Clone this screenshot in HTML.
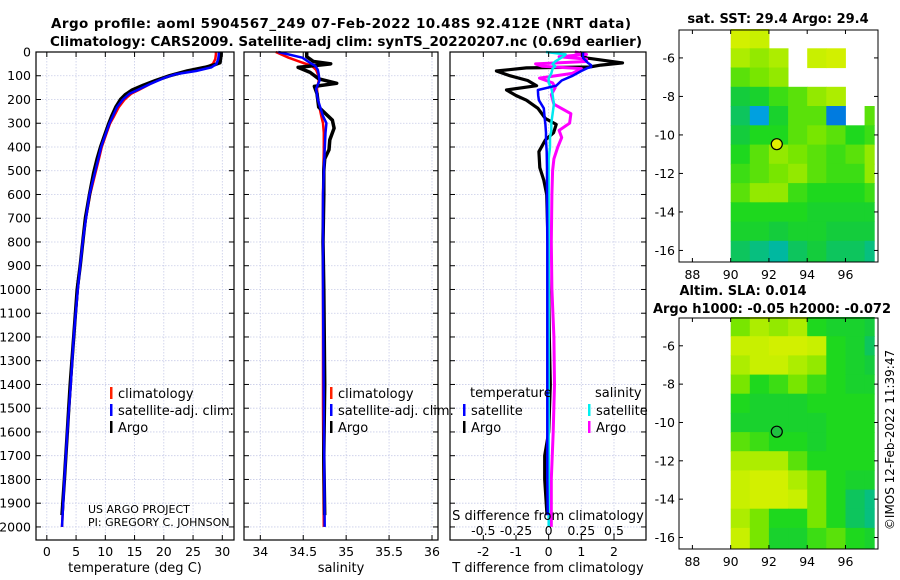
<!DOCTYPE html>
<html><head><meta charset="utf-8">
<style>
html,body{margin:0;padding:0;background:#fff;}
svg{display:block;font-family:"DejaVu Sans","Liberation Sans",sans-serif;}
</style></head>
<body>
<svg id="fig" width="900" height="580" viewBox="0 0 900 580" xmlns="http://www.w3.org/2000/svg">
<text x="341" y="28" text-anchor="middle" font-size="13.5" font-weight="bold" textLength="580">Argo profile: aoml 5904567_249 07-Feb-2022 10.48S 92.412E (NRT data)</text>
<text x="346" y="46" text-anchor="middle" font-size="13.5" font-weight="bold" textLength="592">Climatology: CARS2009. Satellite-adj clim: synTS_20220207.nc (0.69d earlier)</text>
<g id="plots"></g>
<text x="778" y="23" text-anchor="middle" font-size="13" font-weight="bold">sat. SST: 29.4 Argo: 29.4</text>
<text x="743" y="295" text-anchor="middle" font-size="13" font-weight="bold">Altim. SLA: 0.014</text>
<text x="772" y="313" text-anchor="middle" font-size="13" font-weight="bold">Argo h1000: -0.05 h2000: -0.072</text>
<text transform="translate(894,440) rotate(-90)" text-anchor="middle" font-size="12">©IMOS 12-Feb-2022 11:39:47</text>
</svg>
<script>
// ---------- profile data ----------
const depthT = [0,10,30,50,65,80,93,110,135,160,176,200,232,270,301,350,399,450,510,600,700,787,900,1000,1200,1400,1600,1800,2000];
const tempSat = [29.4,29.4,29.3,29.0,28.1,25.5,22.1,20,17.6,15.5,14.1,13,12,11.3,10.7,10,9.3,8.8,8.2,7.3,6.7,6.2,5.7,5.3,4.6,4.1,3.5,3.0,2.6];
const tempClim = [28.9,28.9,28.8,28.4,27.3,25.0,21.8,19.8,17.6,15.7,14.4,13.3,12.3,11.5,10.8,10.1,9.4,8.9,8.3,7.4,6.7,6.2,5.7,5.3,4.6,4.1,3.5,3.0,2.6];
const depthA = [0,10,30,45,55,65,80,100,120,140,160,180,200,232,270,301,350,399,450,510,600,700,787,900,1000,1200,1400,1600,1800,1950];
const tempArgo = [29.8,29.8,29.7,29.6,28.5,27.0,24.0,21.0,18.6,16.5,14.6,13.4,12.6,11.8,11.1,10.6,9.9,9.2,8.6,8.0,7.3,6.6,6.2,5.7,5.2,4.6,4.0,3.5,3.0,2.6];
const depthS = [0,24,46,58,75,93,121,155,200,270,300,340,410,600,1000,1500,2000];
const salSat = [34.21,34.49,34.58,34.64,34.67,34.68,34.69,34.65,34.67,34.73,34.77,34.76,34.75,34.73,34.73,34.74,34.75];
const salClim = [34.18,34.33,34.50,34.60,34.65,34.67,34.68,34.66,34.67,34.71,34.73,34.74,34.74,34.73,34.73,34.73,34.74];
const depthSA = [0,20,40,50,65,86,113,132,145,175,232,287,321,370,412,450,500,600,800,1000,1400,1700,1950];
const salArgo = [34.54,34.54,34.62,34.82,34.44,34.58,34.68,34.89,34.63,34.66,34.68,34.84,34.86,34.81,34.80,34.75,34.74,34.74,34.73,34.74,34.75,34.74,34.75];
const depthD = [0,25,46,55,63,67,80,100,120,142,160,183,203,237,280,305,340,370,420,487,540,600,800,1000,1200,1400,1600,1700,1800,1950];
const dTArgo = [0.95,1.15,2.26,1.6,1.25,-0.68,-1.6,-1.19,-0.64,-0.37,-1.29,-1.0,-0.68,-0.33,-0.1,0.23,0.15,-0.1,-0.3,-0.27,-0.15,-0.06,-0.02,0,0.02,0.05,0.0,-0.12,-0.12,-0.05];
const dTSat = [1.05,1.05,1.2,1.3,1.3,1.2,1.0,0.74,0.4,0.23,-0.33,-0.32,-0.3,-0.15,-0.12,-0.1,-0.08,-0.08,-0.06,-0.05,-0.05,-0.05,-0.04,-0.04,-0.04,-0.04,-0.04,-0.04,-0.04,-0.03];
const depthDS = [0,10,20,30,40,50,60,70,90,110,130,150,180,220,260,300,330,360,400,450,500,600,800,1000,1200,1400,1600,1800,2000];
const dSSat = [-0.02,0.13,0.11,0.08,0.05,0.03,0.05,0.03,0.02,0.0,0.0,0.02,0.03,0.04,0.03,0.02,0.02,0.01,0.01,0.0,0.0,0.0,0.0,0.0,0.0,0.0,0.0,0.0,0.0];
const dSArgo = [0.2,0.29,0.08,0.29,0.29,-0.1,-0.05,0.25,0.18,-0.07,0.03,0.05,0.02,0.04,0.17,0.16,0.08,0.1,0.07,0.04,0.03,0.025,0.02,0.025,0.04,0.045,0.035,0.02,0.02];
const depthTicks = [0,100,200,300,400,500,600,700,800,900,1000,1100,1200,1300,1400,1500,1600,1700,1800,1900,2000];
const tempTicks = [0,5,10,15,20,25,30];
const salTicks = [34,34.5,35,35.5,36];
const salTickLabels = ['34','34.5','35','35.5','36'];
const dTTicks = [-2,-1,0,1,2];
const dSTicks = [-0.5,-0.25,0,0.25,0.5];
const dSTickLabels = ['-0.5','-0.25','0','0.25','0.5'];
// ---------- map data (1 deg lon x 1 deg lat cells, 90..97.5E, -4.5..-16.6) ----------
const mapLons = [90,91,92,93,94,95,96,97];
const mapLats = [-4.5,-5.5,-6.5,-7.5,-8.5,-9.5,-10.5,-11.5,-12.5,-13.5,-14.5,-15.5];
const sstRow0=[0.85,0.8,null,null,null,null,null,null];
const sstRow1=[0.75,0.7,0.75,null,0.8,0.85,null,null];
const sstRow2=[0.6,0.65,0.7,null,null,null,null,null];
const sstRow3=[0.4,0.45,0.55,0.6,0.7,0.75,null,null];
const sstRow4=[0.35,0.15,0.45,0.6,0.6,0.1,null,0.6];
const sstRow5=[0.4,0.5,0.5,0.6,0.65,0.6,0.5,0.55];
const sstRow6=[0.5,0.6,0.7,0.65,0.6,0.55,0.6,0.7];
const sstRow7=[0.55,0.6,0.65,0.7,0.6,0.55,0.55,0.7];
const sstRow8=[0.6,0.7,0.7,0.55,0.5,0.5,0.5,0.55];
const sstRow9=[0.5,0.5,0.5,0.5,0.45,0.45,0.45,0.45];
const sstRow10=[0.45,0.45,0.4,0.45,0.45,0.4,0.4,0.4];
const sstRow11=[0.35,0.3,0.25,0.35,0.4,0.35,0.35,0.3];
const slaRow0=[0.65,0.75,0.7,0.75,0.5,0.45,0.45,0.4];
const slaRow1=[0.8,0.8,0.85,0.85,0.8,0.5,0.45,0.35];
const slaRow2=[0.75,0.8,0.8,0.75,0.7,0.5,0.45,0.4];
const slaRow3=[0.65,0.5,0.55,0.65,0.55,0.5,0.45,0.45];
const slaRow4=[0.5,0.45,0.45,0.45,0.5,0.5,0.5,0.5];
const slaRow5=[0.45,0.45,0.45,0.45,0.45,0.5,0.5,0.5];
const slaRow6=[0.6,0.55,0.5,0.5,0.45,0.5,0.5,0.5];
const slaRow7=[0.75,0.75,0.75,0.6,0.5,0.5,0.5,0.5];
const slaRow8=[0.8,0.85,0.85,0.75,0.65,0.5,0.45,0.45];
const slaRow9=[0.8,0.85,0.85,0.8,0.65,0.5,0.35,0.3];
const slaRow10=[0.75,0.65,0.5,0.5,0.65,0.5,0.35,0.3];
const slaRow11=[0.8,0.65,0.45,0.45,0.55,0.6,0.5,0.45];
const argoLon = [92.41];
const argoLat = [-10.48];
const mapLatTicks = [-6,-8,-10,-12,-14,-16];
const mapLonTicks = [88,90,92,94,96];

const NS='http://www.w3.org/2000/svg';
const root=document.getElementById('plots');
function mk(tag,attrs,parent){const e=document.createElementNS(NS,tag);for(const k in attrs)e.setAttribute(k,attrs[k]);(parent||root).appendChild(e);return e;}
function txt(x,y,s,size,anchor,parent){const t=mk('text',{x:x,y:y,'font-size':size,'text-anchor':anchor||'middle'},parent);t.textContent=s;return t;}

const Y0=52, Y1=540, DMAX=2055;
function yD(d){return Y0+d/DMAX*(Y1-Y0);}

function panel(name,x0,x1,xmin,xmax){
  const g=mk('g',{});
  
  
  const xs=v=>x0+(v-xmin)/(xmax-xmin)*(x1-x0);
  return {g,xs,x0,x1};
}
function grid(p,xt){
  xt.forEach(v=>{const l=mk('line',{x1:p.xs(v),x2:p.xs(v),y1:Y0,y2:Y1,stroke:'#c8cce8','stroke-width':0.8,'stroke-dasharray':'1.5,1.5'},p.g);
    });
  depthTicks.forEach(d=>{const l=mk('line',{x1:p.x0,x2:p.x1,y1:yD(d),y2:yD(d),stroke:'#c8cce8','stroke-width':0.8,'stroke-dasharray':'1.5,1.5'},p.g);
    });
}
function frame(p,xt,labels,yLabels){
  const r=mk('rect',{x:p.x0,y:Y0,width:p.x1-p.x0,height:Y1-Y0,fill:'none',stroke:'#000','stroke-width':1.2},p.g);
  
  depthTicks.forEach(d=>{
    mk('line',{x1:p.x0,x2:p.x0+5,y1:yD(d),y2:yD(d),stroke:'#000'},p.g);
    mk('line',{x1:p.x1,x2:p.x1-5,y1:yD(d),y2:yD(d),stroke:'#000'},p.g);
    if(yLabels){const t=txt(p.x0-5,yD(d)+4.5,String(d),12.5,'end',p.g);
      }
  });
  xt.forEach((v,i)=>{
    mk('line',{x1:p.xs(v),x2:p.xs(v),y1:Y1,y2:Y1-5,stroke:'#000'},p.g);
    mk('line',{x1:p.xs(v),x2:p.xs(v),y1:Y0,y2:Y0+5,stroke:'#000'},p.g);
    const t=txt(p.xs(v),556,labels[i],12.5,'middle',p.g);
    
  });
}
function line(p,xv,dv,color,w,name){
  const pts=xv.map((v,i)=>p.xs(v).toFixed(1)+','+yD(dv[i]).toFixed(1)).join(' ');
  const l=mk('polyline',{points:pts,fill:'none',stroke:color,'stroke-width':w,'stroke-linejoin':'round'},p.g);
  
}
function legendEntry(p,x,y,color,label){
  const g=mk('g',{},p.g);
  
  mk('rect',{x:x,y:y-10,width:2.5,height:12,fill:color},g);
  txt(x+8,y+1,label,13,'start',g);
}

// Panel 1 temperature
const p1=panel('temperature-panel',36,234,-1.85,32);
grid(p1,tempTicks);
line(p1,tempClim,depthT,'#ff0000',2.5,'temperature-climatology-line');
line(p1,tempArgo,depthA,'#000000',3.5,'temperature-argo-line');
line(p1,tempSat,depthT,'#0000ff',2.5,'temperature-satellite-line');
frame(p1,tempTicks,tempTicks.map(String),true);
legendEntry(p1,110,397,'#ff2000','climatology');
legendEntry(p1,110,414,'#0000ff','satellite-adj. clim.');
legendEntry(p1,110,431,'#000','Argo');
let t=txt(88,513,'US ARGO PROJECT',11,'start',p1.g);

t=txt(88,526,'PI: GREGORY C. JOHNSON',11,'start',p1.g);

t=txt(135,572,'temperature (deg C)',13,'middle',p1.g);


// Panel 2 salinity
const p2=panel('salinity-panel',244,438,33.81,36.07);
grid(p2,salTicks);
line(p2,salClim,depthS,'#ff0000',2.5,'salinity-climatology-line');
line(p2,salArgo,depthSA,'#000000',3.5,'salinity-argo-line');
line(p2,salSat,depthS,'#0000ff',2.5,'salinity-satellite-line');
frame(p2,salTicks,salTickLabels,false);
legendEntry(p2,330,397,'#ff2000','climatology');
legendEntry(p2,330,414,'#0000ff','satellite-adj. clim.');
legendEntry(p2,330,431,'#000','Argo');
t=txt(341,572,'salinity',13,'middle',p2.g);


// Panel 3 differences
const p3=panel('difference-panel',450,646,-3.02,2.98);
grid(p3,dTTicks);
line(p3,dTArgo,depthD,'#000000',3.2,'temp-diff-argo-line');
line(p3,dSArgo.map(v=>v*4),depthDS,'#ff00ff',3,'sal-diff-argo-line');
line(p3,dSSat.map(v=>v*4),depthDS,'#00e8f0',2.5,'sal-diff-satellite-line');
line(p3,dTSat,depthD,'#0000ff',2.5,'temp-diff-satellite-line');
frame(p3,dTTicks,dTTicks.map(String),false);
t=txt(470,397,'temperature',13,'start',p3.g);

t=txt(595,397,'salinity',13,'start',p3.g);

legendEntry(p3,463,414,'#0000ff','satellite');
legendEntry(p3,463,431,'#000','Argo');
legendEntry(p3,588,414,'#00f0f0','satellite');
legendEntry(p3,588,431,'#ff00ff','Argo');
t=txt(548,520,'S difference from climatology',13,'middle',p3.g);

dSTicks.forEach((v,i)=>{const tt=txt(p3.xs(v*4),535,dSTickLabels[i],12.5,'middle',p3.g);
  });
t=txt(548,572,'T difference from climatology',13,'middle',p3.g);


// ---------- maps ----------
const cstops=[[0,[0,48,224]],[0.15,[0,160,224]],[0.25,[0,184,160]],[0.4,[20,204,60]],[0.5,[30,216,30]],[0.65,[120,230,0]],[0.8,[200,240,0]],[1,[240,240,0]]];
function cmap(v){for(let i=1;i<cstops.length;i++){if(v<=cstops[i][0]){const a=cstops[i-1],b=cstops[i],f=(v-a[0])/(b[0]-a[0]);
  const c=a[1].map((x,k)=>Math.round(x+f*(b[1][k]-x)));return 'rgb('+c.join(',')+')';}}return 'rgb(240,240,0)';}
function map(name,yTop,yBot,rows,circleFill){
  const g=mk('g',{});
  
  const x0=679,x1=878,lonMin=87.3,lonMax=97.7,latTop=-4.55,latBot=-16.6;
  const xs=l=>x0+(l-lonMin)/(lonMax-lonMin)*(x1-x0);
  const ys=l=>yTop+(latTop-l)/(latTop-latBot)*(yBot-yTop);
  rows.forEach((row,ri)=>{row.forEach((v,ci)=>{
    if(v===null)return;
    const la=mapLats[ri],lb=ri+1<mapLats.length?mapLats[ri+1]:latBot;
    const lo=mapLons[ci],lo2=Math.min(lo+1,97.5);
    const r=mk('rect',{x:xs(lo).toFixed(1),y:ys(la).toFixed(1),width:(xs(lo2)-xs(lo)+0.5).toFixed(1),height:(ys(lb)-ys(la)+0.5).toFixed(1),fill:cmap(v)},g);
    
  });});
  const c=mk('circle',{cx:xs(argoLon[0]),cy:ys(argoLat[0]),r:5.5,fill:circleFill,stroke:'#000','stroke-width':1.2},g);
  
  const f=mk('rect',{x:x0,y:yTop,width:x1-x0,height:yBot-yTop,fill:'none',stroke:'#000','stroke-width':1},g);
  
  mapLatTicks.forEach(l=>{
    mk('line',{x1:x0,x2:x0+4,y1:ys(l),y2:ys(l),stroke:'#000'},g);
    mk('line',{x1:x1,x2:x1-4,y1:ys(l),y2:ys(l),stroke:'#000'},g);
    const tt=txt(x0-4,ys(l)+4.5,String(l),12.5,'end',g);
    
  });
  mapLonTicks.forEach(l=>{
    mk('line',{x1:xs(l),x2:xs(l),y1:yBot,y2:yBot-4,stroke:'#000'},g);
    mk('line',{x1:xs(l),x2:xs(l),y1:yTop,y2:yTop+4,stroke:'#000'},g);
    const tt=txt(xs(l),yBot+17,String(l),12.5,'middle',g);
    
  });
}
map('sst-map',30,262,[sstRow0,sstRow1,sstRow2,sstRow3,sstRow4,sstRow5,sstRow6,sstRow7,sstRow8,sstRow9,sstRow10,sstRow11],'#e0f000');
map('sla-map',318,549,[slaRow0,slaRow1,slaRow2,slaRow3,slaRow4,slaRow5,slaRow6,slaRow7,slaRow8,slaRow9,slaRow10,slaRow11],'#20c040');
</script>
</body></html>
